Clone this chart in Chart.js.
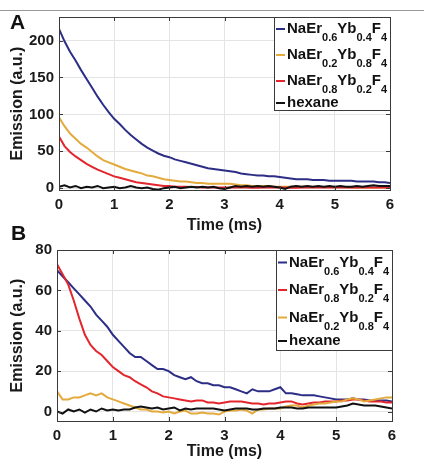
<!DOCTYPE html>
<html lang="en">
<head>
    <meta charset="UTF-8">
    <title>Emission decay</title>
    <script src="https://cdn.jsdelivr.net/npm/chart.js"></script>
    <style>
        body { margin: 0; background: #fff; }
        #wrap { position: relative; width: 424px; height: 463px; overflow: hidden; }
        #wrap canvas { position: absolute; left: 0; }
        .rule { position: absolute; left: 0; top: 10px; width: 424px; height: 1px; background: #9a9a9a; }
        .tag { position: absolute; font: bold 21px/21px "Liberation Sans", Arial, sans-serif; color: #111; }
    </style>
</head>
<body>
<div id="wrap">
    <div class="rule"></div>
    <canvas id="chartA" width="424" height="236" style="top:0"></canvas>
    <canvas id="chartB" width="424" height="227" style="top:236px"></canvas>
    <div class="tag" style="left:10px; top:10.5px">A</div>
    <div class="tag" style="left:11px; top:222px">B</div>
</div>

<script>
    // time axis (ms), shared by both panels
    const times = [
        0, 0.1, 0.2, 0.3, 0.4, 0.5, 0.6, 0.7, 0.8, 0.9,
        1, 1.1, 1.2, 1.3, 1.4, 1.5, 1.6, 1.7, 1.8, 1.9,
        2, 2.1, 2.2, 2.3, 2.4, 2.5, 2.6, 2.7, 2.8, 2.9,
        3, 3.1, 3.2, 3.3, 3.4, 3.5, 3.6, 3.7, 3.8, 3.9,
        4, 4.1, 4.2, 4.3, 4.4, 4.5, 4.6, 4.7, 4.8, 4.9,
        5, 5.1, 5.2, 5.3, 5.4, 5.5, 5.6, 5.7, 5.8, 5.9,
        6
    ];
    const xTicks = [0, 1, 2, 3, 4, 5, 6];

    // Panel A
    const yTicksA = [0, 50, 100, 150, 200];
    const labelsA = ['NaEr_{0.6}Yb_{0.4}F_{4}', 'NaEr_{0.2}Yb_{0.8}F_{4}', 'NaEr_{0.8}Yb_{0.2}F_{4}', 'hexane'];
    const er06A = [
        216, 199, 185, 173, 160, 148, 136, 124, 113, 103,
        94, 87, 79, 72, 66, 60, 55, 51, 47, 44,
        42, 39, 37, 35, 33, 31, 29, 27, 26, 25,
        24, 23, 22, 20, 19, 18, 17, 17, 16, 16,
        15, 14, 13, 12, 12, 12, 11, 11, 11, 10,
        10, 10, 10, 10, 9, 9, 9, 9, 8, 8,
        7
    ];
    const er02A = [
        96, 84, 74, 67, 60, 55, 49, 43, 38, 35,
        32, 29, 26, 24, 22, 20, 17, 16, 14, 12,
        11, 10, 9, 9, 8, 7, 7, 6, 6, 6,
        6, 6, 5, 4, 4, 3, 3, 3, 3, 2,
        2, 2, 2, 2, 2, 2, 2, 1.5, 1.5, 1.5,
        1.5, 1.5, 1.5, 1, 1, 1, 1, 1, 1, 1,
        1
    ];
    const er08A = [
        70, 57, 49, 43, 38, 33, 29, 25, 22, 19,
        16, 14, 12, 10, 8, 7, 6, 5, 4, 3,
        3, 2, 2, 2, 1.5, 1.5, 1, 1, 1, 1,
        1, 1, 1, 1, 1, 0.5, 0.5, 1, 1, 1,
        1, 1, 0.5, 0.5, 1, 1, 1, 1, 1, 1,
        1, 1, 1, 1, 1, 1, 1, 1, 1, 1,
        1
    ];
    const hexaneA = [
        2, 4, 1, 3, 0, 2, 1, 3, 0, 1,
        2, 0, 1, 3, 1, 0, 1, -1, -2, 0,
        1, 2, 0, 1, 2, 1, 2, 1, 2, 0,
        -1, 1, 3, 2, 3, 2, 3, 2, 3, 2,
        1, -1, 2, 3, 2, 3, 2, 3, 2, 3,
        2, 3, 2, 2, 3, 2, 3, 4, 3, 3,
        3
    ];

    // Panel B
    const yTicksB = [0, 20, 40, 60, 80];
    const labelsB = ['NaEr_{0.6}Yb_{0.4}F_{4}', 'NaEr_{0.8}Yb_{0.2}F_{4}', 'NaEr_{0.2}Yb_{0.8}F_{4}', 'hexane'];
    const er06B = [
        70, 67, 64, 61, 58, 55, 52, 48, 45, 42,
        38, 35, 32, 29, 27, 27, 25, 23, 21, 21,
        20, 18, 17, 16, 17, 15, 14, 14, 13, 13,
        12, 12, 11, 10, 9, 11, 10, 10, 10, 11,
        12, 9, 9, 8.5, 8, 8, 8, 7.5, 7, 6.5,
        6, 6, 6, 6.5, 6, 6, 5.5, 5.5, 5.5, 5.5,
        5
    ];
    const er08B = [
        73, 68, 63, 55, 46, 38, 33, 30, 28, 25,
        22, 20, 18, 17, 15, 13.5, 12, 10, 9, 7.5,
        7, 6.5, 6, 5.5, 5, 5.5, 5.5, 4.5, 4.5, 4,
        4.5, 5, 5, 5, 4.5, 4, 4, 3.5, 4, 4,
        4.5, 5, 5, 4, 3.5, 4, 4.5, 4.5, 5, 5,
        5, 5.5, 5.5, 6, 6, 5.5, 5, 5, 5, 4.5,
        4.5
    ];
    const er02B = [
        10, 6, 6, 7, 7, 8, 9, 8, 9, 7,
        6, 5, 4, 3, 2, 1, 1, 0, 0, -0.5,
        0, -1, 0, 0.5, -1, -1, -0.5, -1, -1, -1.5,
        0, 0.5, 0.5, 1, 0.5, -1, 1, 1, 1.5, 1.5,
        1.5, 2.5, 3, 3, 2, 3, 3.5, 4, 4, 4.5,
        5, 5, 6, 6.5, 6, 5, 5.5, 6, 6.5, 7,
        7
    ];
    const hexaneB = [
        0, -1, 1, 0, 1, -0.5, 1, 0, 1.5, 0.5,
        1, 0.5, 1, 1, 2, 2.5, 2, 1.5, 2, 1,
        1.5, 2, 0.5, 1.5, 1, 1.5, 1.5, 1.5, 1.5, 1,
        0.5, 1, 1.5, 1.5, 1.5, 1, 1, 1.5, 1.5, 1.5,
        2, 2, 2, 1.5, 1.5, 2, 2, 2, 2, 2,
        2, 2.5, 3, 4, 3.5, 3, 3, 3, 2.5, 2,
        1.5
    ];

    const BLUE = '#2c2e86';
    const YELLOW = '#e3aa3c';
    const RED = '#e3262d';
    const BLACK = '#111111';
    const FONT = '"Liberation Sans", Arial, sans-serif';

    Chart.defaults.font.family = FONT;
    Chart.defaults.color = '#1a1a1a';

    function points(vals) {
        return times.map((t, i) => ({ x: t, y: vals[i] }));
    }

    function series(label, vals, color, order) {
        return {
            label: label,
            data: points(vals),
            borderColor: color,
            backgroundColor: color,
            borderWidth: 2,
            pointRadius: 0,
            tension: 0,
            order: order
        };
    }

    // MATLAB style box with small inward ticks
    const axesBox = {
        id: 'axesBox',
        afterDatasetsDraw(chart) {
            const { ctx, chartArea: a, scales } = chart;
            ctx.save();
            ctx.strokeStyle = '#3a3a3a';
            ctx.lineWidth = 1;
            ctx.strokeRect(Math.round(a.left) + 0.5, Math.round(a.top) + 0.5,
                Math.round(a.right - a.left), Math.round(a.bottom - a.top));
            ctx.beginPath();
            scales.x.ticks.forEach(t => {
                const px = Math.round(scales.x.getPixelForValue(t.value)) + 0.5;
                ctx.moveTo(px, a.bottom); ctx.lineTo(px, a.bottom - 4);
                ctx.moveTo(px, a.top); ctx.lineTo(px, a.top + 4);
            });
            scales.y.ticks.forEach(t => {
                const py = Math.round(scales.y.getPixelForValue(t.value)) + 0.5;
                ctx.moveTo(a.left, py); ctx.lineTo(a.left + 4, py);
                ctx.moveTo(a.right, py); ctx.lineTo(a.right - 4, py);
            });
            ctx.stroke();
            ctx.restore();
        }
    };

    // legend with chemical subscripts
    const subLegend = {
        id: 'subLegend',
        afterDraw(chart, args, opts) {
            const { ctx, chartArea } = chart;
            const right = Math.round(chartArea.right);
            const top = Math.round(chartArea.top);
            const left = right - opts.width;
            ctx.save();
            ctx.fillStyle = '#fff';
            ctx.fillRect(left, top, opts.width, opts.height);
            ctx.strokeStyle = '#3a3a3a';
            ctx.lineWidth = 1;
            ctx.strokeRect(left + 0.5, top + 0.5, opts.width, opts.height);

            let base = top + opts.first;
            chart.data.datasets.forEach((ds, i) => {
                const parts = ds.label.split(/_\{([^}]*)\}/);
                if (i > 0) base += parts.length > 1 ? opts.step : opts.lastStep;
                ctx.strokeStyle = ds.borderColor;
                ctx.lineWidth = 2;
                ctx.beginPath();
                ctx.moveTo(left + 2, base - 4);
                ctx.lineTo(left + 11, base - 4);
                ctx.stroke();
                ctx.fillStyle = '#111';
                ctx.textBaseline = 'alphabetic';
                let x = left + 13;
                parts.forEach((p, k) => {
                    const sub = k % 2 === 1;
                    ctx.font = 'bold ' + (sub ? 11 : 15) + 'px ' + FONT;
                    ctx.fillText(p, x, sub ? base + 8 : base);
                    x += ctx.measureText(p).width;
                });
            });
            ctx.restore();
        }
    };

    function makeChart(id, datasets, cfg) {
        const ctx = document.getElementById(id).getContext('2d');
        return new Chart(ctx, {
            type: 'line',
            data: { datasets: datasets },
            plugins: [axesBox, subLegend],
            options: {
                responsive: false,
                animation: false,
                devicePixelRatio: 1,
                layout: { padding: cfg.padding },
                plugins: {
                    legend: { display: false },
                    tooltip: { enabled: false },
                    subLegend: cfg.legend
                },
                scales: {
                    x: {
                        type: 'linear',
                        min: 0,
                        max: 6,
                        afterBuildTicks: s => { s.ticks = xTicks.map(v => ({ value: v })); },
                        afterFit: s => { s.height = cfg.xHeight; },
                        grid: { color: '#e4e4e4', drawTicks: false },
                        border: { display: false },
                        ticks: { padding: 6, font: { size: 15, weight: 'bold' }, color: '#1a1a1a' },
                        title: {
                            display: true,
                            text: 'Time (ms)',
                            font: { size: 16, weight: 'bold' },
                            color: '#1a1a1a',
                            padding: { top: 0, bottom: cfg.xTitlePad }
                        }
                    },
                    y: {
                        min: cfg.yMin,
                        max: cfg.yMax,
                        afterBuildTicks: s => { s.ticks = cfg.yTicks.map(v => ({ value: v })); },
                        afterFit: s => { s.width = cfg.yWidth; },
                        grid: { color: '#e4e4e4', drawTicks: false },
                        border: { display: false },
                        ticks: { padding: 5, font: { size: 15, weight: 'bold' }, color: '#1a1a1a' },
                        title: {
                            display: true,
                            text: 'Emission (a.u.)',
                            font: { size: 16, weight: 'bold' },
                            color: '#1a1a1a',
                            padding: { top: 7.5, bottom: 0 }
                        }
                    }
                }
            }
        });
    }

    makeChart('chartA', [
        series(labelsA[0], er06A, BLUE, 4),
        series(labelsA[1], er02A, YELLOW, 3),
        series(labelsA[2], er08A, RED, 2),
        series(labelsA[3], hexaneA, BLACK, 1)
    ], {
        padding: { left: 0, right: 34, top: 17, bottom: 0 },
        xHeight: 46,
        yWidth: 59,
        xTitlePad: 0.5,
        yMin: -2.5,
        yMax: 232,
        yTicks: yTicksA,
        legend: { width: 116, height: 93, first: 16, step: 26, lastStep: 22 }
    });

    makeChart('chartB', [
        series(labelsB[0], er06B, BLUE, 4),
        series(labelsB[1], er08B, RED, 3),
        series(labelsB[2], er02B, YELLOW, 2),
        series(labelsB[3], hexaneB, BLACK, 1)
    ], {
        padding: { left: 0, right: 32, top: 8, bottom: 0 },
        xHeight: 42,
        yWidth: 57,
        xTitlePad: 1.5,
        yMin: -4.7,
        yMax: 80,
        yTicks: yTicksB,
        legend: { width: 116, height: 100, first: 16.5, step: 27.5, lastStep: 23.5 }
    });
</script>
</body>
</html>
